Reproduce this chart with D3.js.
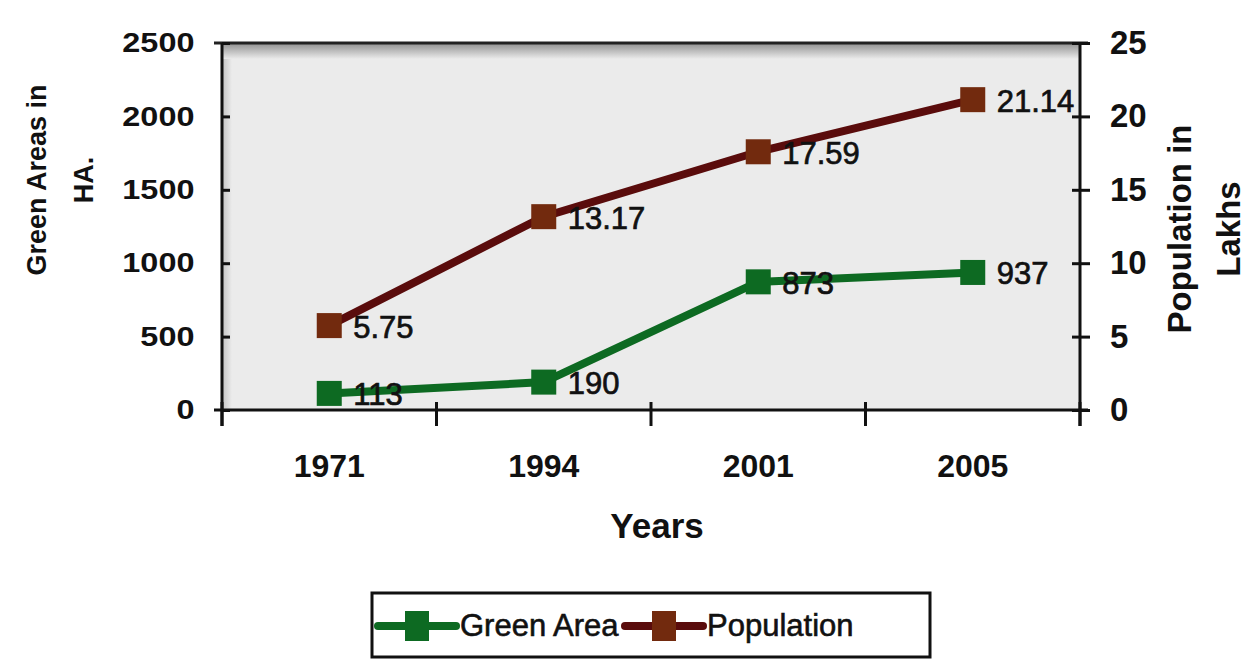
<!DOCTYPE html>
<html>
<head>
<meta charset="utf-8">
<script src="https://cdn.jsdelivr.net/npm/d3@7"></script>
<style>
  body { margin: 0; background: #fff; }
  svg text { font-family: "Liberation Sans", Arial, sans-serif; fill: #111; }
</style>
</head>
<body>
<div id="drawing"></div>
<script>
const width = 1246;
const height = 663;
const plot = {left: 222, right: 1080, top: 43, bottom: 410};

// data
const years = ["1971", "1994", "2001", "2005"];
const greenArea = [113, 190, 873, 937];
const population = [5.75, 13.17, 17.59, 21.14];
const greenTicks = [0, 500, 1000, 1500, 2000, 2500];
const popTicks = [0, 5, 10, 15, 20, 25];

const greenCol = "#0d6a22";
const popLine = "#5a0c0c";
const popMarker = "#722a0e";

const svg = d3.select("#drawing").append("svg")
  .attr("width", width)
  .attr("height", height);

const defs = svg.append("defs");
const grad = defs.append("linearGradient").attr("id", "topShade")
  .attr("x1", 0).attr("y1", 0).attr("x2", 0).attr("y2", 1);
grad.append("stop").attr("offset", 0).attr("stop-color", "#8f8f8f");
grad.append("stop").attr("offset", 1).attr("stop-color", "#ebebeb");
const gradL = defs.append("linearGradient").attr("id", "leftShade")
  .attr("x1", 0).attr("y1", 0).attr("x2", 1).attr("y2", 0);
gradL.append("stop").attr("offset", 0).attr("stop-color", "#c4c4c4");
gradL.append("stop").attr("offset", 1).attr("stop-color", "#ebebeb");

const xScale = d3.scaleBand()
  .domain(years)
  .range([plot.left, plot.right]);

const yLeft = d3.scaleLinear()
  .domain([0, 2500])
  .range([plot.bottom, plot.top]);

const yRight = d3.scaleLinear()
  .domain([0, 25])
  .range([plot.bottom, plot.top]);

// plot background
svg.append("rect")
  .attr("x", plot.left).attr("y", plot.top)
  .attr("width", plot.right - plot.left).attr("height", plot.bottom - plot.top)
  .attr("fill", "#ebebeb");
svg.append("rect")
  .attr("x", plot.left).attr("y", plot.top)
  .attr("width", 10).attr("height", plot.bottom - plot.top)
  .attr("fill", "url(#leftShade)");
svg.append("rect")
  .attr("x", plot.left).attr("y", plot.top)
  .attr("width", plot.right - plot.left).attr("height", 16)
  .attr("fill", "url(#topShade)");
svg.append("line")
  .attr("x1", plot.left - 8).attr("x2", plot.right + 8)
  .attr("y1", plot.top).attr("y2", plot.top)
  .attr("stroke", "#222").attr("stroke-width", 3);

// left axis
const leftAxis = svg.append("g")
  .attr("transform", `translate(${plot.left},0)`)
  .call(d3.axisLeft(yLeft).tickValues(greenTicks).tickFormat(d3.format("d"))
    .tickSizeInner(9).tickSizeOuter(0).tickPadding(14));
leftAxis.selectAll(".tick line").attr("x2", 8);

// right axis
const rightAxis = svg.append("g")
  .attr("transform", `translate(${plot.right},0)`)
  .call(d3.axisRight(yRight).tickValues(popTicks).tickSizeInner(9).tickSizeOuter(0).tickPadding(21));
rightAxis.selectAll(".tick line").attr("x2", 10).attr("x1", -8);

// bottom axis, ticks at category boundaries
const bottomAxis = svg.append("g")
  .attr("transform", `translate(0,${plot.bottom})`)
  .call(d3.axisBottom(xScale).tickSize(0).tickPadding(44));
const bounds = years.map(d => xScale(d)).concat([plot.right]);
bottomAxis.selectAll(".bound").data(bounds).join("line")
  .attr("class", "bound")
  .attr("x1", d => d).attr("x2", d => d)
  .attr("y1", -8).attr("y2", 16)
  .attr("stroke", "#111").attr("stroke-width", 3);

[leftAxis, rightAxis, bottomAxis].forEach(a => {
  a.select(".domain").attr("stroke", "#111").attr("stroke-width", 3);
  a.selectAll(".tick line").attr("stroke", "#111").attr("stroke-width", 3);
  a.selectAll("text")
    .attr("font-weight", "bold")
    .attr("font-family", "Liberation Sans, Arial, sans-serif")
    .attr("fill", "#111");
});
leftAxis.selectAll("text").attr("font-size", 27).attr("transform", "scale(1.2,1)");
rightAxis.selectAll("text").attr("font-size", 33);
bottomAxis.selectAll("text").attr("font-size", 32);

leftAxis.select(".domain").attr("d", `M0,${plot.top}V${plot.bottom + 16}`);
rightAxis.select(".domain").attr("d", `M0,${plot.top}V${plot.bottom + 16}`);
bottomAxis.select(".domain").attr("d", `M${plot.left - 8},0H${plot.right + 8}`);

// series
const cx = d => xScale(d) + xScale.bandwidth() / 2;

const greenData = years.map((y, i) => ({year: y, v: greenArea[i]}));
const popData = years.map((y, i) => ({year: y, v: population[i]}));

const greenLine = d3.line().x(d => cx(d.year)).y(d => yLeft(d.v));
const popLineGen = d3.line().x(d => cx(d.year)).y(d => yRight(d.v));

svg.append("path").datum(popData)
  .attr("d", popLineGen)
  .attr("fill", "none").attr("stroke", popLine).attr("stroke-width", 8);
svg.append("path").datum(greenData)
  .attr("d", greenLine)
  .attr("fill", "none").attr("stroke", greenCol).attr("stroke-width", 8);

const ms = 25;
svg.selectAll(".popMark").data(popData).join("rect")
  .attr("class", "popMark")
  .attr("x", d => cx(d.year) - ms / 2).attr("y", d => yRight(d.v) - ms / 2)
  .attr("width", ms).attr("height", ms)
  .attr("fill", popMarker);
svg.selectAll(".greenMark").data(greenData).join("rect")
  .attr("class", "greenMark")
  .attr("x", d => cx(d.year) - ms / 2).attr("y", d => yLeft(d.v) - ms / 2)
  .attr("width", ms).attr("height", ms)
  .attr("fill", greenCol);

// data labels
svg.selectAll(".popLabel").data(popData).join("text")
  .attr("class", "popLabel")
  .attr("x", d => cx(d.year) + 24).attr("y", d => yRight(d.v) + 12)
  .attr("font-size", 31)
  .attr("stroke", "#111").attr("stroke-width", 0.7)
  .text(d => d.v.toFixed(2));
svg.selectAll(".greenLabel").data(greenData).join("text")
  .attr("class", "greenLabel")
  .attr("x", d => cx(d.year) + 24).attr("y", d => yLeft(d.v) + 12)
  .attr("font-size", 31)
  .attr("stroke", "#111").attr("stroke-width", 0.7)
  .text(d => d.v);

// axis titles
const leftTitle = svg.append("text")
  .attr("transform", "translate(46,180) rotate(-90)")
  .attr("text-anchor", "middle")
  .attr("font-size", 27).attr("font-weight", "bold");
leftTitle.append("tspan").attr("x", 0).attr("dy", 0).text("Green Areas in");
leftTitle.append("tspan").attr("x", 0).attr("dy", 47).text("HA.");

const rightTitle = svg.append("text")
  .attr("transform", "translate(1191,229) rotate(-90)")
  .attr("text-anchor", "middle")
  .attr("font-size", 33).attr("font-weight", "bold");
rightTitle.append("tspan").attr("x", 0).attr("dy", 0).text("Population in");
rightTitle.append("tspan").attr("x", 0).attr("dy", 49).text("Lakhs");

svg.append("text")
  .attr("x", 657).attr("y", 538)
  .attr("text-anchor", "middle")
  .attr("font-size", 35).attr("font-weight", "bold")
  .text("Years");

// legend
const legend = svg.append("g").attr("transform", "translate(372,593)");
legend.append("rect")
  .attr("width", 558).attr("height", 64)
  .attr("fill", "#fff").attr("stroke", "#111").attr("stroke-width", 3);
const items = [
  {name: "Green Area", line: greenCol, mark: greenCol, x: 6},
  {name: "Population", line: popLine, mark: popMarker, x: 253}
];
const li = legend.selectAll(".item").data(items).join("g")
  .attr("class", "item")
  .attr("transform", d => `translate(${d.x},33)`);
li.append("line")
  .attr("x1", 0).attr("x2", 78)
  .attr("stroke", d => d.line).attr("stroke-width", 8)
  .attr("stroke-linecap", "round");
li.append("rect")
  .attr("x", 27).attr("y", -15).attr("width", 24).attr("height", 30)
  .attr("fill", d => d.mark);
li.append("text")
  .attr("x", 82).attr("y", 10)
  .attr("font-size", 31)
  .attr("stroke", "#111").attr("stroke-width", 0.6)
  .text(d => d.name);
</script>
</body>
</html>
